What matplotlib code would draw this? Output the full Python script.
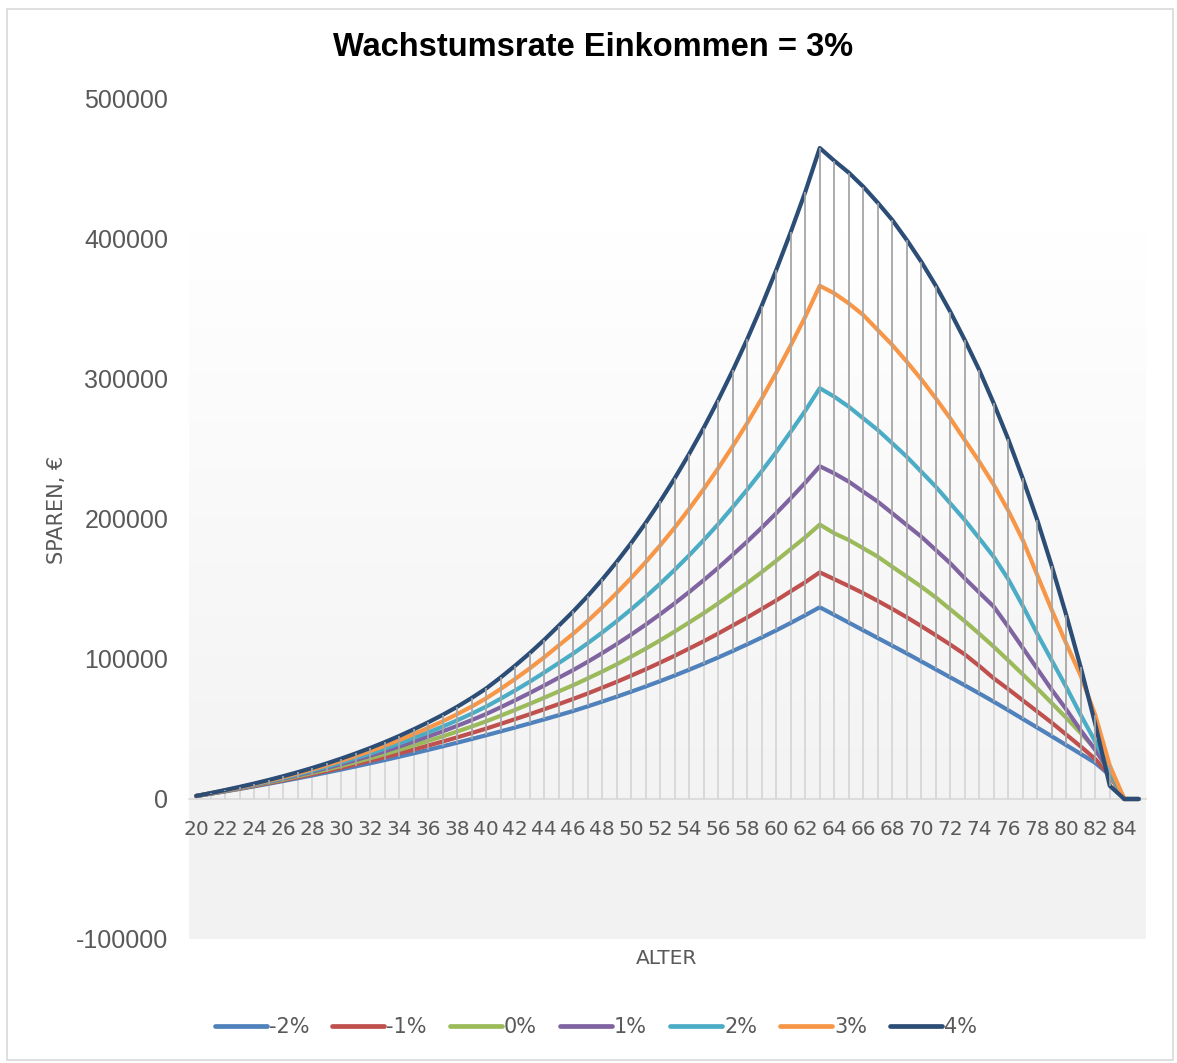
import numpy as np
import matplotlib
matplotlib.use("Agg")
import matplotlib.pyplot as plt
from matplotlib.colors import LinearSegmentedColormap
from matplotlib.lines import Line2D
from matplotlib.patches import Rectangle

# Alter 20..85 (Kategorien)
alter = list(range(20, 86))

sparen_m2 = [2100, 3750, 5460, 7220, 9030, 10900, 12830, 14810, 16840, 18930, 21080, 23280, 25530, 27840, 30210, 32630,
             35100, 37630, 40220, 42860, 45550, 48300, 51110, 53970, 56880, 59850, 62880, 66180, 69580, 73080,
             76680, 80380, 84230, 88230, 92380, 96680, 101130, 105730, 110480, 115380, 120480, 125780, 131280, 136980,
             131500, 126000, 120500, 115000, 109500, 104000, 98300, 92600, 86900, 81200, 75400, 69500, 63400, 57200,
             51000, 44800, 38500, 32200, 25800, 17000, 0, 0]
sparen_m1 = [2120, 3830, 5610, 7450, 9350, 11330, 13390, 15510, 17690, 19970, 22330, 24760, 27280, 29880, 32580, 35370,
             38170, 41070, 44050, 47140, 50300, 53670, 57080, 60550, 64150, 67780, 71490, 75400, 79520, 83680,
             88150, 92660, 97460, 102320, 107490, 112690, 118230, 123960, 129670, 135760, 141850, 148400, 154860, 161910,
             157000, 152100, 147000, 141500, 135800, 129800, 123500, 117000, 110300, 103300, 95000, 86200, 78500, 70500,
             62500, 54500, 46000, 37500, 28500, 17000, 0, 0]
sparen_0 = [2130, 3920, 5770, 7700, 9700, 11790, 13980, 16250, 18600, 21070, 23650, 26340, 29130, 32050, 35100, 38290,
            41480, 44750, 48210, 51780, 55520, 59530, 63700, 67980, 72340, 76860, 81300, 86120, 91040, 96200,
            101750, 107390, 113390, 119640, 126150, 132740, 139740, 147010, 154300, 162070, 170160, 178550, 186910, 196020,
            189800, 185000, 179100, 173100, 165900, 158800, 151700, 144000, 135500, 127000, 118000, 108800, 99000, 89000,
            79000, 68500, 58000, 47000, 36000, 18000, 0, 0]
sparen_p1 = [2150, 4000, 5930, 7940, 10020, 12220, 14530, 16940, 19460, 22110, 24900, 27820, 30880, 34090, 37470, 41030,
             44620, 48330, 52260, 56390, 60740, 65550, 70550, 75720, 81090, 86650, 92110, 98020, 104210, 110640,
             117470, 124580, 132020, 139790, 147900, 156340, 165120, 174460, 183950, 193830, 204140, 214850, 225910, 237680,
             232600, 226700, 219500, 212400, 204100, 195700, 187400, 177900, 168400, 157600, 147500, 137400, 123000, 108000,
             93000, 78000, 64000, 49000, 35000, 20000, 0, 0]
sparen_p2 = [2160, 4070, 6070, 8150, 10330, 12630, 15050, 17590, 20260, 23080, 26070, 29210, 32510, 36010, 39690, 43610,
             47590, 51760, 56220, 60960, 66020, 71690, 77620, 83810, 90350, 97130, 103920, 111270, 118950, 127020,
             135530, 144450, 153860, 163740, 174120, 184980, 196370, 208520, 221020, 234130, 247900, 262320, 277300, 293450,
             287400, 280200, 271900, 263600, 254100, 244500, 233800, 223100, 211200, 199300, 186200, 173000, 157000, 138000,
             118000, 99000, 80000, 60000, 41000, 21000, 0, 0]
sparen_p3 = [2180, 4150, 6220, 8390, 10650, 13060, 15610, 18290, 21110, 24120, 27320, 30700, 34260, 38050, 42070, 46350,
             50820, 55520, 60610, 66070, 71940, 78680, 85800, 93300, 101260, 109670, 118070, 127190, 136910, 147250,
             157940, 169240, 181220, 193880, 207270, 221380, 236270, 252000, 268540, 286030, 304540, 324030, 344420, 366590,
             361200, 354000, 345700, 335000, 324300, 312400, 299800, 286200, 271900, 256400, 241000, 224500, 206000, 185000,
             160000, 135000, 111000, 88000, 60000, 24000, 0, 0]
sparen_p4 = [2200, 4250, 6410, 8680, 11060, 13600, 16300, 19160, 22180, 25420, 28880, 32550, 36440, 40600, 45030, 49780,
             54800, 60100, 65900, 72200, 79000, 86900, 95300, 104200, 113700, 123800, 134000, 145000, 156800, 169400,
             182900, 197300, 212700, 229100, 246600, 265200, 285000, 306100, 328500, 352400, 377900, 405000, 433600, 465000,
             455900, 447400, 437400, 425900, 413600, 399300, 383800, 366700, 348100, 327900, 306400, 282600, 257000, 229000,
             199300, 166400, 131400, 94000, 53600, 9500, 0, 0]

labels = ['-2%', '-1%', '0%', '1%', '2%', '3%', '4%']
farben = ['#4F81BD', '#C0504D', '#9BBB59', '#8064A2', '#4BACC6', '#F79646', '#2C4D75']
reihen = [sparen_m2, sparen_m1, sparen_0, sparen_p1, sparen_p2, sparen_p3, sparen_p4]

schmal = ['Liberation Sans Narrow', 'DejaVu Sans']
normal = ['Liberation Sans', 'DejaVu Sans']
grau = '#595959'

fig = plt.figure(figsize=(11.77, 10.63), dpi=100)
fig.patches.append(Rectangle((7 / 1177, 3 / 1063), 1166 / 1177, 1051 / 1063, transform=fig.transFigure,
                             fill=False, edgecolor='#d9d9d9', linewidth=1.2))
ax = fig.add_axes([189 / 1177, 1 - 939 / 1063, 957 / 1177, 840 / 1063])

# Hintergrund mit Verlauf
cmap = LinearSegmentedColormap.from_list('bg', [(0, '#f2f2f2'), (0.17, '#f3f3f3'), (0.84, '#ffffff'),
                                                (1, '#ffffff')], N=512)
grad = np.linspace(0, 1, 512).reshape(-1, 1)
ax.imshow(grad, extent=[0, 1, 0, 1], transform=ax.transAxes, aspect='auto', cmap=cmap,
          origin='lower', zorder=0)

x = np.arange(len(alter))
werte = np.array(reihen)
hoch = werte.max(axis=0)
tief = werte.min(axis=0)

# Lotlinien und Hoch-Tief-Linien
ax.vlines(x, 0, hoch, color='#d4d4d4', linewidth=1.2, zorder=2)
for i, (name, farbe, y) in enumerate(zip(labels, farben, reihen)):
    ax.plot(x, y, color=farbe, linewidth=3.0, solid_capstyle='round', solid_joinstyle='round',
            zorder=3 + i, label=name)
ax.vlines(x, tief, hoch, color='#a6a6a6', linewidth=1.2, zorder=12)

for s in ['top', 'right', 'left']:
    ax.spines[s].set_visible(False)
ax.spines['bottom'].set_position(('data', 0))
ax.spines['bottom'].set_color('#d9d9d9')
ax.spines['bottom'].set_linewidth(1.2)
ax.spines['bottom'].set_zorder(1)

ax.set_xlim(-0.5, len(alter) - 0.5)
ax.set_ylim(-100000, 500000)
ax.set_yticks(range(-100000, 500001, 100000))
ax.set_yticklabels([str(v) for v in range(-100000, 500001, 100000)], family=normal, fontsize=18, color=grau)
ax.set_xticks(x[::2])
ax.set_xticklabels([str(a) for a in alter[::2]], family=schmal, fontsize=14.5, color=grau)
ax.tick_params(axis='both', length=0)
ax.tick_params(axis='y', pad=15)
ax.tick_params(axis='x', pad=15)

fig.text(593 / 1177, 1 - 47 / 1063, 'Wachstumsrate Einkommen = 3%', ha='center', va='center',
         family=normal, fontweight='bold', fontsize=23.5, color='black')
fig.text(57 / 1177, 1 - 510 / 1063, 'SPAREN, €', rotation=90, ha='center', va='center',
         family=schmal, fontsize=15, color=grau)
fig.text(667 / 1177, 1 - 958 / 1063, 'ALTER', ha='center', va='center',
         family=schmal, fontsize=14.5, color=grau)

griffe = [Line2D([0], [0], color=f, linewidth=3.4, solid_capstyle='round') for f in farben]
fig.legend(griffe, labels, loc='center', bbox_to_anchor=(596 / 1177, 1 - 1027 / 1063), ncol=7,
           frameon=False, handlelength=2.5, handletextpad=0.1, columnspacing=1.1,
           prop={'family': schmal, 'size': 15}, labelcolor=grau)

fig.savefig('out.png', dpi=100)
